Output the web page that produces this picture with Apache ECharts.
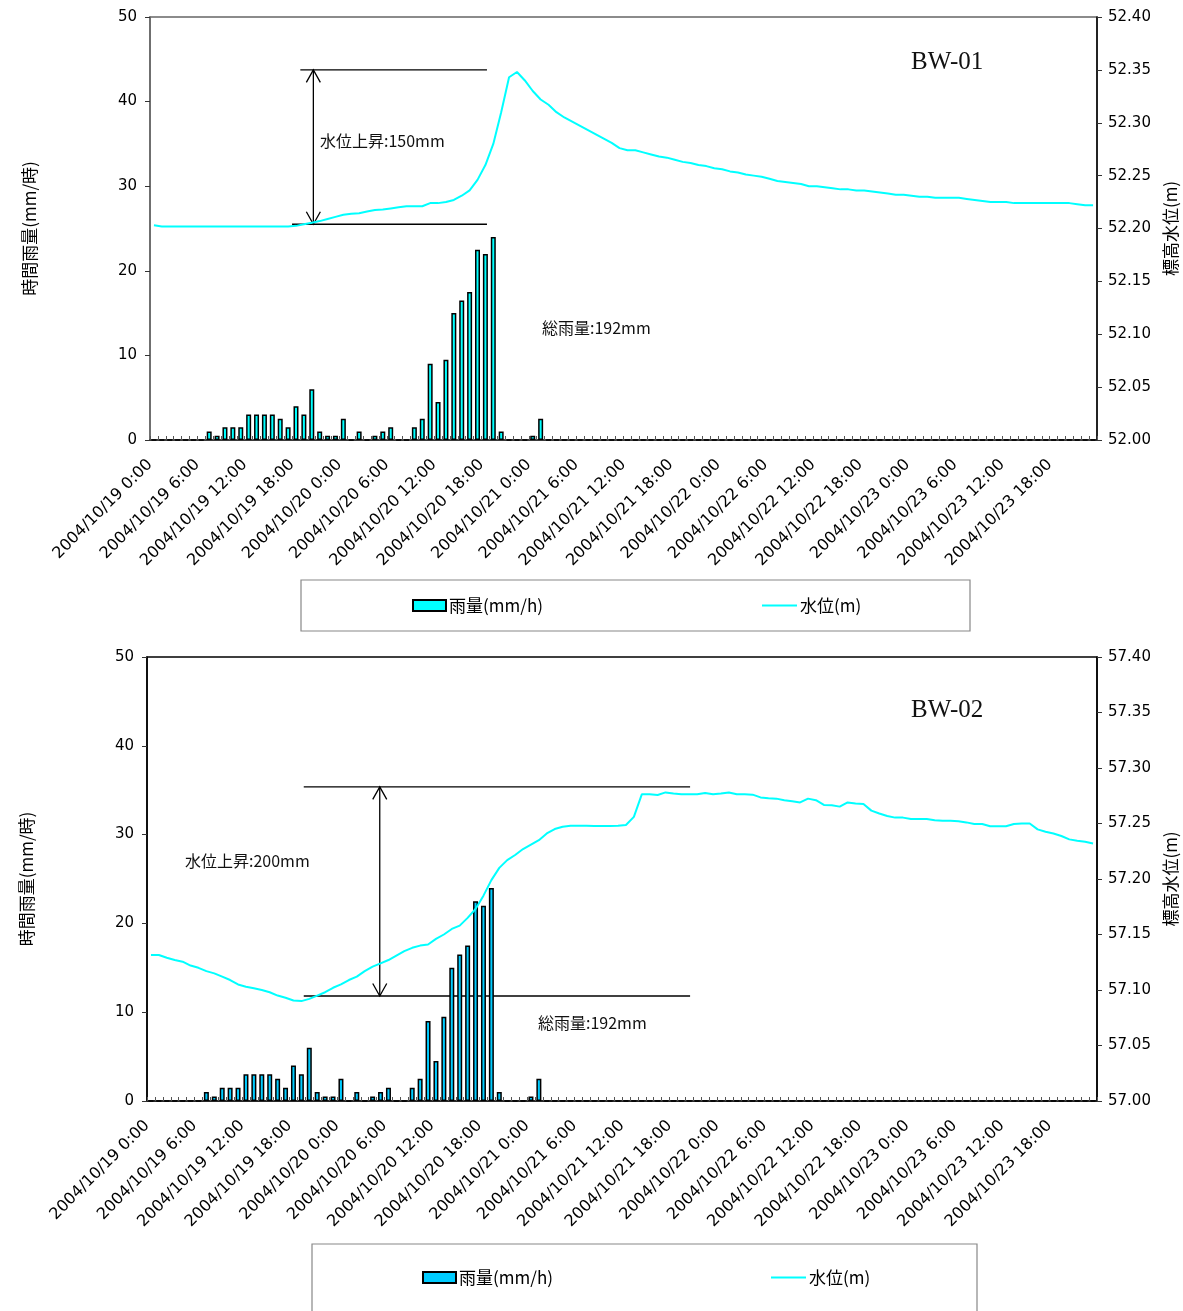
<!DOCTYPE html>
<html><head><meta charset="utf-8">
<script src="https://cdn.jsdelivr.net/npm/echarts@6/dist/echarts.min.js"></script>
<style>
html,body{margin:0;padding:0;background:#fff;}
#c1{position:absolute;left:0;top:0;width:1183px;height:640px;}
#c2{position:absolute;left:0;top:640px;width:1183px;height:671px;}
</style>
</head><body>
<div id="c1"></div><div id="c2"></div>
<script>
// hourly rainfall (mm/h), 2004/10/19 0:00 .. 2004/10/23 23:00 (120 hours)
const rainfall = [
0,0,0,0,0,0,0,1,0.5,1.5,
1.5,1.5,3,3,3,3,2.5,1.5,4,3,
6,1,0.5,0.5,2.5,0,1,0,0.5,1,
1.5,0,0,1.5,2.5,9,4.5,9.5,15,16.5,
17.5,22.5,22,24,1,0,0,0,0.5,2.5,
0,0,0,0,0,0,0,0,0,0, 0,0,0,0,0,0,0,0,0,0,
0,0,0,0,0,0,0,0,0,0, 0,0,0,0,0,0,0,0,0,0,
0,0,0,0,0,0,0,0,0,0, 0,0,0,0,0,0,0,0,0,0,
0,0,0,0,0,0,0,0,0,0
];
// water level BW-01 (m)
const levelBW01 = [
52.203,52.202,52.202,52.202,52.202,52.202,52.202,52.202,52.202,52.202,
52.202,52.202,52.202,52.202,52.202,52.202,52.202,52.202,52.2025,52.204,
52.2055,52.207,52.209,52.211,52.213,52.214,52.2145,52.216,52.2175,52.218,
52.219,52.220,52.221,52.221,52.221,52.224,52.224,52.225,52.227,52.231,
52.236,52.246,52.260,52.280,52.310,52.343,52.348,52.340,52.330,52.322,
52.317,52.310,52.305,52.301,52.297,52.293,52.289,52.285,52.281,52.276,
52.274,52.274,52.272,52.270,52.268,52.267,52.265,52.263,52.262,52.260,
52.259,52.257,52.256,52.254,52.253,52.251,52.250,52.249,52.247,52.245,
52.244,52.243,52.242,52.240,52.240,52.239,52.238,52.237,52.237,52.236,
52.236,52.235,52.234,52.233,52.232,52.232,52.231,52.230,52.230,52.229,
52.229,52.229,52.229,52.228,52.227,52.226,52.225,52.225,52.225,52.224,
52.224,52.224,52.224,52.224,52.224,52.224,52.224,52.223,52.222,52.222
];
// water level BW-02 (m)
const levelBW02 = [
57.1315,57.1315,57.129,57.127,57.1255,57.122,57.120,57.117,57.115,57.112,
57.109,57.105,57.103,57.1015,57.100,57.098,57.095,57.093,57.0905,57.090,
57.092,57.095,57.098,57.102,57.105,57.109,57.112,57.117,57.121,57.124,
57.127,57.131,57.135,57.138,57.140,57.141,57.146,57.150,57.155,57.158,
57.165,57.173,57.185,57.199,57.210,57.217,57.2216,57.227,57.231,57.235,
57.241,57.245,57.247,57.248,57.248,57.248,57.2477,57.2477,57.2477,57.248,
57.2486,57.256,57.2763,57.2763,57.2757,57.278,57.277,57.2763,57.2763,57.2763,
57.2775,57.2763,57.277,57.278,57.2763,57.2763,57.276,57.2735,57.2727,57.2724,
57.271,57.270,57.269,57.2724,57.271,57.2667,57.2665,57.2652,57.269,57.268,
57.2676,57.2616,57.259,57.2568,57.2553,57.2553,57.254,57.254,57.254,57.253,
57.2525,57.2525,57.252,57.251,57.2496,57.2496,57.2475,57.2475,57.2475,57.2496,
57.250,57.250,57.2447,57.2426,57.241,57.2387,57.2357,57.2345,57.2335,57.232
];
const tickLabels = [
'2004/10/19 0:00','2004/10/19 6:00','2004/10/19 12:00','2004/10/19 18:00',
'2004/10/20 0:00','2004/10/20 6:00','2004/10/20 12:00','2004/10/20 18:00',
'2004/10/21 0:00','2004/10/21 6:00','2004/10/21 12:00','2004/10/21 18:00',
'2004/10/22 0:00','2004/10/22 6:00','2004/10/22 12:00','2004/10/22 18:00',
'2004/10/23 0:00','2004/10/23 6:00','2004/10/23 12:00','2004/10/23 18:00'
];
// hourly categories
const hours = [];
for (let i = 0; i < 120; i++) {
  hours.push('2004/10/' + (19 + Math.floor(i / 24)) + ' ' + (i % 24) + ':00');
}
// annotation levels: segments [hourStart, hourEnd, level]
const annBW01 = { segs: [[19.05, 42.7, 52.35], [18.0, 42.7, 52.204]], arrowHour: 20.7, top: 52.35, bottom: 52.204 };
const annBW02 = { segs: [[19.8, 68.6, 57.283], [19.8, 68.6, 57.0946]], arrowHour: 29.4, top: 57.283, bottom: 57.0946 };

const NUM = "'DejaVu Sans', sans-serif";
const JP = "'Noto Sans CJK JP', sans-serif";

function buildOption(cfg) {
  return {
    animation: false,
    grid: { left: cfg.left, right: 86, top: 17, height: cfg.height, outerBoundsMode: 'none', containLabel: false,
      show: true, borderColor: cfg.border, borderWidth: 1.5, backgroundColor: 'transparent' },
    xAxis: [
      { type: 'category', data: hours, boundaryGap: true, show: false },
      { type: 'value', min: 0, max: 120, interval: 6, position: 'bottom',
        axisLine: { show: true, onZero: false, lineStyle: { color: '#222', width: 1.5 } },
        axisTick: { show: true, inside: true, length: 4, lineStyle: { color: '#555' } },
        minorTick: { show: true, splitNumber: 6, length: 4, lineStyle: { color: '#555' } },
        splitLine: { show: false },
        axisLabel: { rotate: 45, margin: 22, fontSize: 16, fontFamily: NUM, color: '#000',
          showMaxLabel: false,
          formatter: v => tickLabels[Math.round(v / 6)] || '' } }
    ],
    yAxis: [
      { type: 'value', min: 0, max: 50, interval: 10, position: 'left',
        name: '時間雨量(mm/時)', nameLocation: 'middle', nameGap: 112, nameRotate: 90,
        nameTextStyle: { fontSize: 17, fontFamily: JP, color: '#000' },
        axisLine: { show: true, lineStyle: { color: cfg.border, width: 1.5 } },
        axisTick: { show: true, length: 5, lineStyle: { color: '#333' } },
        splitLine: { show: false },
        axisLabel: { fontSize: 15, fontFamily: NUM, color: '#000', margin: 13 } },
      { type: 'value', min: cfg.ymin, max: cfg.ymax, interval: 0.05, position: 'right',
        name: '標高水位(m)', nameLocation: 'middle', nameGap: 64, nameRotate: 90,
        nameTextStyle: { fontSize: 17, fontFamily: JP, color: '#000' },
        axisLine: { show: true, lineStyle: { color: '#000', width: 1.5 } },
        axisTick: { show: true, length: 5, lineStyle: { color: '#333' } },
        splitLine: { show: false },
        axisLabel: { fontSize: 15, fontFamily: NUM, color: '#000', margin: 11, formatter: v => v.toFixed(2) } }
    ],
    legend: [
      { left: cfg.leg1, top: cfg.legTop, padding: 0, itemWidth: 33, itemHeight: 11, itemGap: 4,
        textStyle: { fontSize: 17, fontFamily: JP, color: '#000', padding: [0, 0, 0, -2] },
        data: [{ name: '雨量(mm/h)', icon: 'rect', itemStyle: { color: cfg.barColor, borderColor: '#000', borderWidth: 2 } }] },
      { left: cfg.leg2, top: cfg.legTop, padding: 0, itemWidth: 35, itemHeight: 11,
        textStyle: { fontSize: 17, fontFamily: JP, color: '#000', padding: [0, 0, 0, -2] },
        data: [{ name: '水位(m)', icon: 'path://M0,0 L35,0 L35,2 L0,2 Z', itemStyle: { color: '#00ffff', borderWidth: 0 } }] }
    ],
    series: [
      { name: '雨量(mm/h)', type: 'bar', xAxisIndex: 0, yAxisIndex: 0, data: rainfall, barWidth: 5,
        itemStyle: { color: cfg.barColor, borderColor: '#000', borderWidth: 1.5 } },
      { name: '水位(m)', type: 'line', xAxisIndex: 0, yAxisIndex: 1, data: cfg.level,
        showSymbol: false, symbol: 'none', lineStyle: { color: '#00ffff', width: 2 }, itemStyle: { color: '#00ffff' } }
    ]
  };
}

function addGraphics(chart, ann, extra) {
  const P = (h, v) => chart.convertToPixel({ xAxisIndex: 1, yAxisIndex: 1 }, [h, v]);
  const g = [];
  ann.segs.forEach(s => {
    const a = P(s[0], s[2]), b = P(s[1], s[2]);
    g.push({ type: 'line', shape: { x1: a[0], y1: a[1], x2: b[0], y2: b[1] }, style: { stroke: '#000', lineWidth: 1.3 } });
  });
  const t = P(ann.arrowHour, ann.top), bt = P(ann.arrowHour, ann.bottom);
  g.push({ type: 'line', shape: { x1: t[0], y1: t[1], x2: bt[0], y2: bt[1] }, style: { stroke: '#000', lineWidth: 1.3 } });
  g.push({ type: 'polyline', shape: { points: [[t[0] - 7, t[1] + 12.5], [t[0], t[1]], [t[0] + 7, t[1] + 12.5]] }, style: { stroke: '#000', lineWidth: 1.3, fill: null } });
  g.push({ type: 'polyline', shape: { points: [[bt[0] - 7, bt[1] - 12.5], [bt[0], bt[1]], [bt[0] + 7, bt[1] - 12.5]] }, style: { stroke: '#000', lineWidth: 1.3, fill: null } });
  chart.setOption({ graphic: g.concat(extra) });
}

const c1 = echarts.init(document.getElementById('c1'));
c1.setOption(buildOption({ left: 150, height: 423, border: '#666', ymin: 52.00, ymax: 52.40, level: levelBW01,
  barColor: '#00ffff', leg1: 412, leg2: 762, legTop: 597 }));
addGraphics(c1, annBW01, [
  { type: 'rect', z: -1, shape: { x: 301, y: 580, width: 669, height: 51 }, style: { stroke: '#888', lineWidth: 1.2, fill: null } },
  { type: 'text', left: 320, top: 133, style: { text: '水位上昇:150mm', fontSize: 16, fontFamily: JP, fill: '#111' } },
  { type: 'text', left: 542, top: 320, style: { text: '総雨量:192mm', fontSize: 16, fontFamily: JP, fill: '#111' } },
  { type: 'text', left: 911, top: 50, style: { text: 'BW-01', fontSize: 25, fontFamily: "'Liberation Serif', serif", fill: '#111' } }
]);

const c2 = echarts.init(document.getElementById('c2'));
c2.setOption(buildOption({ left: 147, height: 444, border: '#000', ymin: 57.00, ymax: 57.40, level: levelBW02,
  barColor: '#00ccff', leg1: 422, leg2: 771, legTop: 629 }));
addGraphics(c2, annBW02, [
  { type: 'rect', z: -1, shape: { x: 312, y: 604, width: 665, height: 90 }, style: { stroke: '#888', lineWidth: 1.2, fill: null } },
  { type: 'text', left: 185, top: 213, style: { text: '水位上昇:200mm', fontSize: 16, fontFamily: JP, fill: '#111' } },
  { type: 'text', left: 538, top: 375, style: { text: '総雨量:192mm', fontSize: 16, fontFamily: JP, fill: '#111' } },
  { type: 'text', left: 911, top: 58, style: { text: 'BW-02', fontSize: 25, fontFamily: "'Liberation Serif', serif", fill: '#111' } }
]);
</script>
</body></html>
